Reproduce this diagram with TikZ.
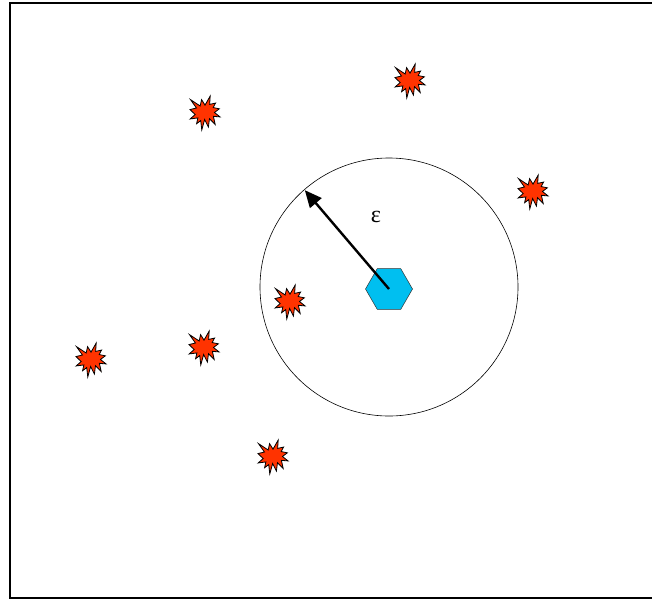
\documentclass[tikz,border=0pt]{standalone}
\usepackage{fontspec}
\usepackage{tikz}
\usetikzlibrary{arrows.meta,shapes.geometric}
\newfontfamily\greekfont{Liberation Serif}
\definecolor{burstred}{HTML}{FF3300}
\definecolor{hubcyan}{HTML}{00BFF0}

\tikzset{
  burstline/.style={draw=black, line width=0.8pt, fill=burstred, line join=miter},
  burst/.pic={
    \path[burstline, x=0.139pt, y=-0.157pt, shift={(-108,-108)}]
      (108,58) -- (145.22,0) -- (141.55,53.25) -- (183.80,44.57) -- (167.02,73.15)
      -- (210.97,81.37) -- (176.07,104.75) -- (216,132.90) -- (168.37,129.42)
      -- (181.45,180.95) -- (140.20,144.57) -- (132.47,197.37) -- (105.32,149.35)
      -- (84.85,216) -- (77.15,156.27) -- (47.62,176.17) -- (56.67,139.37)
      -- (1.35,145.87) -- (37.22,117.75) -- (0,86.15) -- (46.27,76.17)
      -- (3.70,22.95) -- (73.12,63.20) -- (83.52,22.95) -- cycle;
  }
}

\begin{document}
\begin{tikzpicture}[x=1pt, y=-1pt]
\useasboundingbox (0,0) rectangle (652,600);
% outer frame, right side runs off the page
\draw[line width=2pt] (670,3) -- (9.5,3) -- (9.5,598) -- (670,598);

% epsilon neighbourhood round the query point
\node[circle, draw, line width=0.6pt, minimum size=258pt, inner sep=0pt] (range) at (389,287) {};
\node[regular polygon, regular polygon sides=6, draw=black!80, line width=0.5pt, fill=hubcyan,
      minimum size=47pt, inner sep=0pt] (hub) at (389,289) {};
\draw[-{Triangle[length=17pt,width=15pt]}, line width=2.4pt, shorten >=1pt] (hub.center) -- (range.131);
\node[font=\greekfont\fontsize{24}{26}\selectfont] (eps) at (376,217) {ε};

% data points
\foreach \px/\py in {205/113, 410/81, 533/192, 290/302, 204/348, 91/360, 273/457}{
  \pic at (\px,\py) {burst};
}
\end{tikzpicture}
\end{document}
